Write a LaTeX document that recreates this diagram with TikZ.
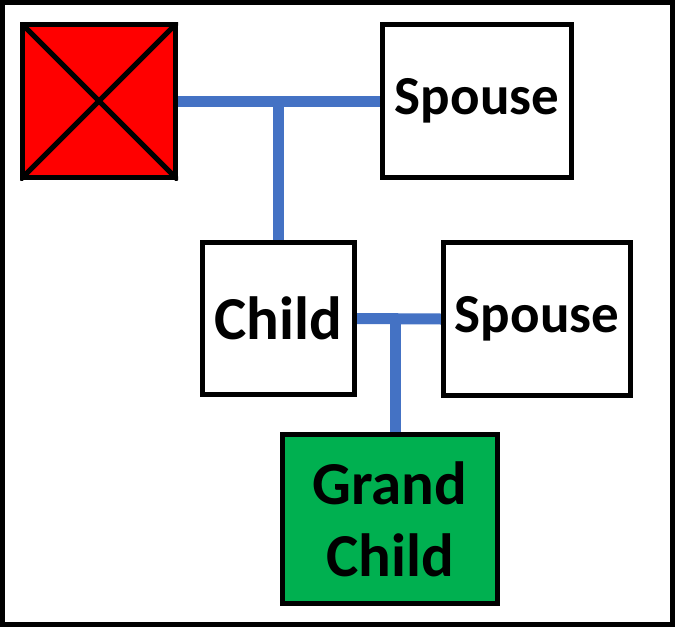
\documentclass[tikz,border=0pt]{standalone}
\usepackage{fontspec}
\setmainfont{Carlito}
\usetikzlibrary{backgrounds}
\definecolor{linkblue}{HTML}{4472C4}
\definecolor{kidgreen}{HTML}{00B050}
\begin{document}
\begin{tikzpicture}[x=1pt, y=-1pt,
                person/.style={rectangle, draw, line width=5pt, fill=white, inner sep=0pt, align=center, font=\fontsize{61}{72}\selectfont\bfseries},
                link/.style={draw=linkblue, line width=11pt}]
                \useasboundingbox (0,0) rectangle (675,627);
                \draw[line width=5pt] (2.5,2.5) rectangle (672.5,624.5);
                \node[person, fill=red, minimum width=153pt, minimum height=153pt] (dead) at (99,101) {};
                \node[person, minimum width=189pt, minimum height=153pt, font=\fontsize{55}{66}\selectfont\bfseries] (spouse) at (477,101) {Spouse};
                \node[person, minimum width=152pt, minimum height=152pt] (child) at (278.5,318.5) {Child};
                \node[person, minimum width=187pt, minimum height=153pt, font=\fontsize{55}{66}\selectfont\bfseries] (cspouse) at (537,319) {Spouse};
                \node[person, fill=kidgreen, minimum width=215pt, minimum height=169pt] (grand) at (390,519) {Grand\\Child};
                \begin{scope}
                \clip (dead.north west) rectangle (dead.south east);
                \draw[line width=5pt] (dead.north west) -- (dead.south east) (dead.north east) -- (dead.south west);
                \end{scope}
                \coordinate (fork) at (395.5,319);

                \begin{scope}[on background layer]
                \draw[link] (dead.east) -- (spouse.west);
                \draw[link] (child.north) -- (child.north |- dead.east);
                \draw[link] (child.east) -- (cspouse.west);
                \draw[link] (fork) -- (fork |- grand.north);
                \end{scope}
            \end{tikzpicture}
\end{document}
